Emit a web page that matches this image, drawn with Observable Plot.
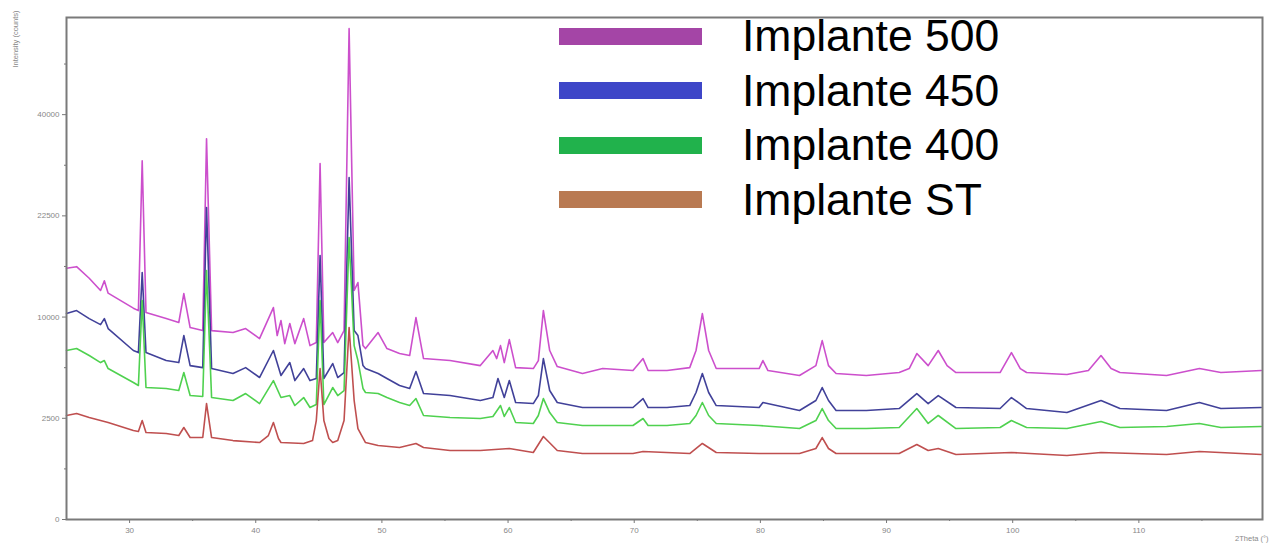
<!DOCTYPE html>
<html>
<head>
<meta charset="utf-8">
<script src="https://cdn.jsdelivr.net/npm/d3@7"></script>
<script src="https://cdn.jsdelivr.net/npm/@observablehq/plot@0.6"></script>
<style>
  html, body { margin: 0; padding: 0; background: #fff; }
  #wrap { position: relative; width: 1270px; height: 544px; font-family: "Liberation Sans", Arial, sans-serif; }
  #legend { position: absolute; left: 559px; top: 9px; }
  .row { display: flex; align-items: center; height: 54.5px; }
  .bar { width: 143px; height: 17px; }
  .lab { margin-left: 40px; font-size: 44.5px; color: #000; line-height: 1; white-space: nowrap; }
</style>
</head>
<body>
<div id="wrap"></div>
<script>
// 2θ (degrees) and intensity (counts)
const implante500 = [
  [25.0,15400],[25.8,15600],[26.8,14200],[27.7,12800],[28.0,13900],[28.3,12500],[30.3,10900],[30.7,10650],
  [31.0,31400],[31.3,10450],[32.9,9850],[33.9,9470],[34.3,12460],[34.8,8990],[35.8,8710],[36.1,35390],
  [36.5,8710],[38.2,8530],[39.2,8900],[40.3,7990],[41.4,10960],[41.7,8260],[42.0,9660],[42.3,7550],
  [42.7,9370],[43.1,7550],[43.8,9850],[44.3,7380],[44.8,7640],[45.1,30910],[45.4,7640],[46.1,8530],
  [46.5,7640],[47.0,8710],[47.4,58800],[47.8,12800],[48.1,13700],[48.5,7380],[48.7,7130],[49.7,8530],
  [50.4,7130],[51.4,6720],[52.2,6560],[52.7,9950],[53.3,6320],[55.4,6165],[57.8,5780],[58.8,6970],
  [59.1,6320],[59.4,7380],[59.7,6010],[60.1,7900],[60.6,5630],[62.0,5560],[62.4,6165],[62.8,10650],
  [63.3,6970],[63.9,5710],[65.9,5200],[67.5,5560],[69.9,5415],[70.7,6320],[71.1,5415],[72.6,5415],
  [74.4,5630],[74.9,6970],[75.4,10350],[75.9,6970],[76.5,5560],[79.9,5560],[80.2,6165],[80.6,5415],
  [83.1,5060],[84.4,5780],[84.9,7810],[85.4,5780],[86.0,5200],[88.4,5060],[91.0,5270],[91.8,5560],
  [92.4,6720],[93.3,5780],[94.1,6970],[94.8,5780],[95.5,5270],[99.0,5270],[99.9,6800],[100.6,5560],
  [101.1,5270],[104.3,5130],[106.0,5415],[107.0,6560],[107.8,5560],[108.5,5270],[112.2,5060],
  [114.8,5560],[116.5,5270],[119.7,5415]
];
const implante450 = [
  [25.0,10350],[25.8,10650],[26.8,9850],[27.7,9270],[28.0,9850],[28.3,8900],[30.3,6970],[30.7,6800],
  [31.0,14880],[31.3,6800],[32.9,6165],[33.9,6010],[34.3,8260],[34.8,5780],[35.8,5630],[36.1,23740],
  [36.5,5560],[38.2,5200],[39.2,5630],[40.3,4920],[41.4,6970],[42.0,5060],[42.7,6010],[43.1,4710],
  [43.8,5560],[44.3,4710],[44.8,4850],[45.1,17000],[45.4,4850],[46.1,5935],[46.5,4920],[47.0,5270],
  [47.4,28520],[47.8,8710],[48.1,8260],[48.5,5780],[48.7,5560],[49.7,5200],[50.4,4850],[51.4,4380],
  [52.2,4190],[52.7,5340],[53.3,3870],[55.4,3750],[57.8,3455],[58.8,3630],[59.2,4850],[59.7,3630],
  [60.1,4710],[60.6,3340],[62.0,3280],[62.4,3750],[62.8,6320],[63.3,4060],[63.9,3340],[65.9,3060],
  [69.9,3060],[70.7,3570],[71.1,3060],[72.6,3060],[74.4,3170],[74.9,3935],[75.4,5200],[75.9,3935],
  [76.5,3170],[79.9,3060],[80.2,3340],[83.1,2900],[84.4,3455],[84.9,4250],[85.4,3455],[86.0,2900],
  [88.4,2900],[91.0,3005],[92.4,3870],[93.3,3280],[94.1,3750],[95.5,3060],[99.0,3005],[99.9,3630],
  [101.1,3005],[104.3,2790],[107.0,3455],[108.5,3005],[112.2,2900],[114.8,3340],[116.5,3005],[119.7,3060]
];
const implante400 = [
  [25.0,6970],[25.8,7130],[26.8,6560],[27.7,6010],[28.0,6165],[28.3,5560],[30.3,4580],[30.7,4380],
  [31.0,11700],[31.3,4250],[32.9,4190],[33.9,4060],[34.3,5270],[34.8,3750],[35.8,3690],[36.1,15120],
  [36.5,3630],[38.2,3455],[39.2,3870],[40.3,3280],[41.4,4710],[42.0,3630],[42.7,3750],[43.1,3170],
  [43.8,3630],[44.3,3060],[44.8,3225],[45.1,11700],[45.4,3225],[46.1,4250],[46.5,3750],[47.0,4060],
  [47.4,19390],[47.8,7380],[48.1,6165],[48.5,4190],[48.7,3935],[49.7,3870],[50.4,3630],[51.4,3340],
  [52.2,3170],[52.7,3570],[53.3,2640],[55.4,2540],[57.8,2490],[58.8,2590],[59.4,3170],[59.7,2590],
  [60.1,3060],[60.6,2295],[62.0,2250],[62.4,2640],[62.8,3570],[63.3,2790],[63.9,2295],[65.9,2155],
  [69.9,2155],[70.7,2490],[71.1,2155],[72.6,2155],[74.4,2250],[74.9,2640],[75.4,3340],[75.9,2640],
  [76.5,2250],[79.9,2155],[83.1,2020],[84.4,2390],[84.9,3005],[85.4,2390],[86.0,2020],[88.4,2020],
  [91.0,2065],[92.4,3005],[93.3,2250],[94.1,2640],[95.5,2020],[99.0,2065],[99.9,2390],[101.1,2065],
  [104.3,2020],[107.0,2340],[108.5,2065],[112.2,2110],[114.8,2250],[116.5,2065],[119.7,2110]
];
const implanteST = [
  [25.0,2640],[25.8,2740],[26.8,2540],[27.7,2390],[28.3,2295],[30.3,1930],[30.7,1890],[31.0,2390],
  [31.3,1846],[32.9,1804],[33.9,1720],[34.3,2065],[34.8,1640],[35.8,1640],[36.1,3280],[36.5,1640],
  [38.2,1520],[40.3,1446],[41.0,1720],[41.4,2295],[41.8,1600],[42.0,1446],[43.8,1410],[44.5,1520],
  [44.8,2390],[45.1,5560],[45.4,2390],[45.8,1600],[46.1,1446],[46.5,1520],[47.0,2390],[47.4,8990],
  [47.8,3455],[48.1,2020],[48.7,1446],[49.7,1335],[51.4,1264],[52.7,1410],[53.3,1264],[55.4,1160],
  [57.8,1160],[60.1,1230],[62.0,1095],[62.8,1680],[63.9,1160],[65.9,1062],[69.9,1062],[70.7,1128],
  [74.4,1062],[75.4,1410],[76.5,1095],[79.9,1062],[83.1,1062],[84.4,1230],[84.9,1640],[85.4,1230],
  [86.0,1062],[91.0,1062],[92.4,1372],[93.3,1160],[94.1,1230],[95.5,1030],[99.9,1095],[104.3,1000],
  [107.0,1095],[112.2,1030],[114.8,1128],[119.7,1030]
];

const seriesNames = ["Implante 500", "Implante 450", "Implante 400", "Implante ST"];
const lineColors = ["#c63cc6", "#2c2c8e", "#3ccc3c", "#b83c3c"];
const legendColors = ["#a445a6", "#3e46c8", "#21b24c", "#b97a52"];
const yMajorTicks = [0, 2500, 10000, 22500, 40000];
const yMinorTicks = [625, 5625, 15625, 30625, 50625];
const xMajorTicks = [30, 40, 50, 60, 70, 80, 90, 100, 110];
const xMinorTicks = [35, 45, 55, 65, 75, 85, 95, 105, 115];

const allSeries = [implante500, implante450, implante400, implanteST];
const rows = allSeries.flatMap((s, i) => s.map(([theta, counts]) => ({theta, counts, series: seriesNames[i]})));

const chart = Plot.plot({
  width: 1270,
  height: 544,
  marginLeft: 66,
  marginRight: 8,
  marginTop: 17,
  marginBottom: 25,
  style: {fontFamily: "'Liberation Sans', Arial, sans-serif", background: "#fff"},
  x: {domain: [25, 119.8]},
  y: {type: "sqrt", domain: [0, 61500]},
  color: {domain: seriesNames, range: lineColors},
  marks: [
    Plot.axisY({ticks: yMajorTicks, tickSize: 4, tickFormat: d => String(d), fontSize: 8, fill: "#888", stroke: "#777", label: null, tickPadding: 3}),
    Plot.axisY({ticks: yMinorTicks, tickSize: 2, tickFormat: () => "", stroke: "#777", label: null}),
    Plot.axisX({ticks: xMajorTicks, tickSize: 4, fontSize: 8, fill: "#888", stroke: "#777", label: null, tickPadding: 4}),
    Plot.axisX({ticks: xMinorTicks, tickSize: 2, tickFormat: () => "", stroke: "#777", label: null}),
    Plot.line(rows, {x: "theta", y: "counts", z: "series", stroke: "series", strokeWidth: 1.6, strokeOpacity: 0.9}),
    Plot.frame({stroke: "#7a7a7a", strokeWidth: 2}),
    Plot.text(["Intensity (counts)"], {frameAnchor: "top-left", dx: -54, dy: -7, rotate: -90, textAnchor: "end", fontSize: 7.5, fill: "#888"}),
    Plot.text(["2Theta (°)"], {frameAnchor: "bottom-right", dx: 6, dy: 19, textAnchor: "end", lineAnchor: "middle", fontSize: 7.5, fill: "#888"})
  ]
});

const wrap = document.getElementById("wrap");
wrap.appendChild(chart);

const legend = document.createElement("div");
legend.id = "legend";
seriesNames.forEach((name, i) => {
  const row = document.createElement("div");
  row.className = "row";
  const bar = document.createElement("div");
  bar.className = "bar";
  bar.style.background = legendColors[i];
  const lab = document.createElement("div");
  lab.className = "lab";
  lab.textContent = name;
  row.appendChild(bar);
  row.appendChild(lab);
  legend.appendChild(row);
});
wrap.appendChild(legend);
</script>
</body>
</html>
